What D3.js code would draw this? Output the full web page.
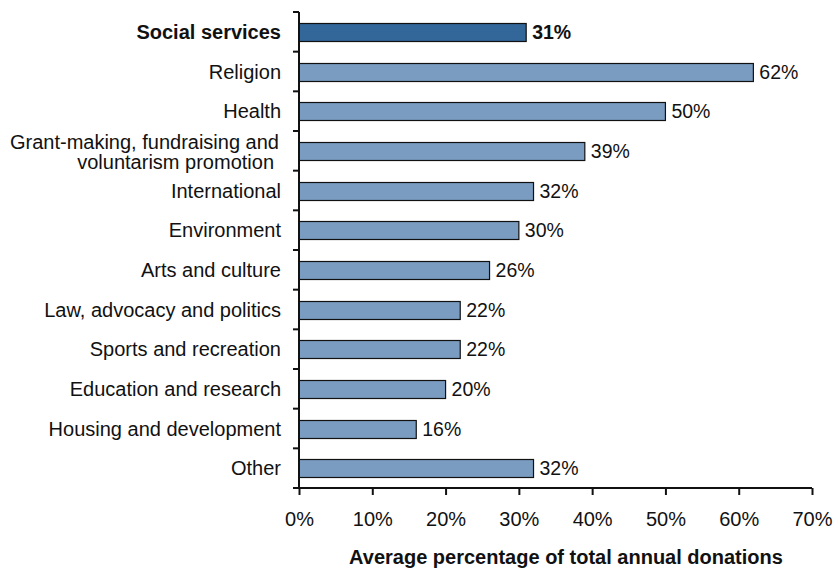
<!DOCTYPE html>
<html>
<head>
<meta charset="utf-8">
<script src="https://cdn.jsdelivr.net/npm/d3@7"></script>
<style>
  html, body { margin: 0; padding: 0; background: #fff; }
  svg text { font-family: "Liberation Sans", Arial, sans-serif; fill: #111; }
</style>
</head>
<body>
<svg id="chart" width="836" height="570"></svg>
<script>
// Share of total annual donations by cause area
const categories = [
  "Social services", "Religion", "Health",
  "Grant-making, fundraising and|voluntarism promotion",
  "International", "Environment", "Arts and culture",
  "Law, advocacy and politics", "Sports and recreation",
  "Education and research", "Housing and development", "Other"
];
const values = [31, 62, 50, 39, 32, 30, 26, 22, 22, 20, 16, 32];
const highlighted = ["Social services"];
const xTicks = [0, 10, 20, 30, 40, 50, 60, 70];
const xTitle = "Average percentage of total annual donations";

const FS = 20;
const svg = d3.select("#chart");
const plotLeft = 299, plotRight = 812, plotTop = 12, plotBottom = 488;

const x = d3.scaleLinear().domain([0, 70]).range([plotLeft, plotRight]);
const y = d3.scaleBand().domain(categories).range([plotTop, plotBottom])
  .paddingInner(0.55).paddingOuter(0.275);

// bars
const data = categories.map((c, i) => ({ c, v: values[i], hi: highlighted.includes(c) }));
svg.append("g").selectAll("rect").data(data).join("rect")
  .attr("x", x(0))
  .attr("y", d => Math.round(y(d.c)) + 0.5)
  .attr("width", d => x(d.v) - x(0))
  .attr("height", Math.round(y.bandwidth()))
  .attr("fill", d => d.hi ? "#336699" : "#7a9cc1")
  .attr("stroke", "#111")
  .attr("stroke-width", 1.2);

// value labels
svg.append("g").selectAll("text").data(data).join("text")
  .attr("x", d => x(d.v) + 6)
  .attr("y", d => y(d.c) + y.bandwidth() / 2)
  .attr("dy", "0.36em")
  .attr("font-size", 19.5)
  .attr("font-weight", d => d.hi ? "bold" : "normal")
  .text(d => d.v + "%");

// y axis: line + ticks between categories
const yAxis = svg.append("g");
yAxis.append("line").attr("x1", plotLeft).attr("x2", plotLeft).attr("y1", plotTop).attr("y2", plotBottom)
  .attr("stroke", "#111").attr("stroke-width", 2);
d3.range(categories.length + 1).forEach(i => {
  const yy = plotTop + i * (plotBottom - plotTop) / categories.length;
  yAxis.append("line").attr("x1", plotLeft - 6).attr("x2", plotLeft).attr("y1", yy).attr("y2", yy)
    .attr("stroke", "#111").attr("stroke-width", 2);
});

// category labels
const lab = svg.append("g").selectAll("text").data(data).join("text")
  .attr("x", 281)
  .attr("text-anchor", "end")
  .attr("font-size", FS)
  .attr("font-weight", d => d.hi ? "bold" : "normal");
lab.each(function(d) {
  const parts = d.c.split("|");
  const cy = y(d.c) + y.bandwidth() / 2;
  const t = d3.select(this);
  if (parts.length === 1) {
    t.attr("y", cy).attr("dy", "0.36em").text(parts[0]);
  } else {
    t.append("tspan").attr("x", 279).attr("y", cy - 9).attr("dy", "0.36em").text(parts[0]);
    t.append("tspan").attr("x", 274).attr("y", cy + 11).attr("dy", "0.36em").text(parts[1]);
  }
});

// x axis
const xAxis = d3.axisBottom(x).tickValues(xTicks).tickFormat(d => d + "%")
  .tickSize(7).tickPadding(17);
const gx = svg.append("g").attr("transform", `translate(0,${plotBottom})`).call(xAxis);
gx.select(".domain").attr("stroke", "#111").attr("stroke-width", 2).attr("d", `M${plotLeft},0H${plotRight}`);
gx.selectAll(".tick line").attr("stroke", "#111").attr("stroke-width", 2);
gx.selectAll(".tick text").attr("font-size", FS)
  .attr("font-family", "Liberation Sans, Arial, sans-serif").attr("fill", "#111");

svg.append("text")
  .attr("x", 566).attr("y", 564)
  .attr("text-anchor", "middle")
  .attr("font-size", FS).attr("font-weight", "bold")
  .text(xTitle);
</script>
</body>
</html>
